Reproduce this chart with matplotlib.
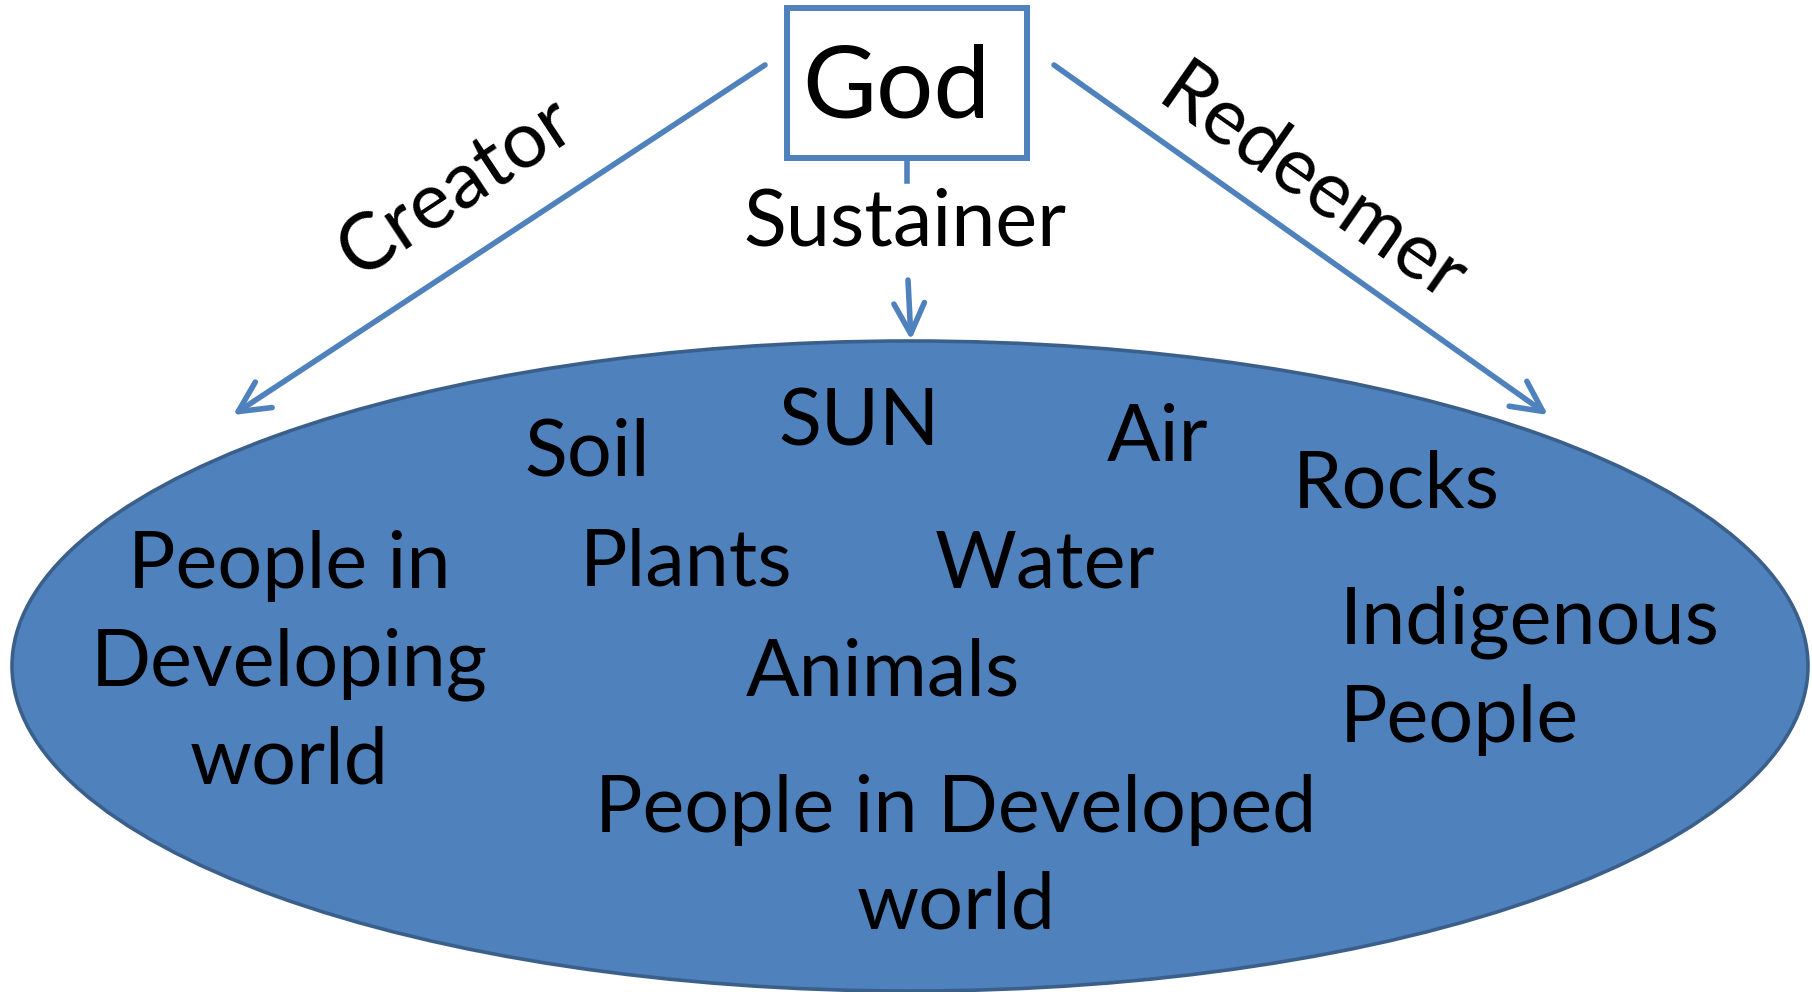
import matplotlib.pyplot as plt
from matplotlib.patches import Ellipse, Rectangle, FancyArrowPatch

plt.rcParams['font.family'] = ['Lato', 'DejaVu Sans']

blue = '#4f81bd'
edge = '#3a5f8b'

# world items inside the ellipse: label, x, y, alignment
world_labels = ['Soil', 'SUN', 'Air', 'Rocks', 'People in\nDeveloping\nworld',
                'Plants', 'Water', 'Animals', 'Indigenous\nPeople',
                'People in Developed\nworld']
world_x = [587, 859, 1158, 1396, 289, 686, 1045, 883, 1340, 956]
world_y = [453, 424, 439, 486, 664, 563, 565, 674, 671, 858]
world_ha = ['center'] * 8 + ['left', 'center']

# relations: label, arrow start, arrow end, label position, rotation
rel_labels = ['Creator', 'Redeemer']
rel_start = [(765, 65), (1054, 65)]
rel_end = [(233, 415), (1548, 415)]
rel_text_xy = [(456, 188), (1312, 186)]
rel_rot = [33.5, -35]

fig = plt.figure(figsize=(18.12, 9.92), dpi=100)
ax = fig.add_axes([0, 0, 1, 1])
ax.set_xlim(0, 1812)
ax.set_ylim(992, 0)
ax.axis('off')

ax.add_patch(Ellipse((910, 666), 1796, 650, facecolor=blue, edgecolor=edge, lw=2.6))
ax.add_patch(Rectangle((787, 8), 240, 150, facecolor='white', edgecolor=blue, lw=4.3))
ax.text(896, 89, 'God', fontsize=73, ha='center', va='center')

astyle = '->,head_length=1.0,head_width=0.5'
for lab, s, e, t, r in zip(rel_labels, rel_start, rel_end, rel_text_xy, rel_rot):
    ax.add_patch(FancyArrowPatch(s, e, arrowstyle=astyle, mutation_scale=22,
                                 color=blue, lw=4.0, shrinkA=0, shrinkB=0))
    ax.text(t[0], t[1], lab, fontsize=57, rotation=r, rotation_mode='anchor',
            ha='center', va='center')

# Sustainer: short stub under the box, then arrow down to the world
ax.plot([907, 907], [158, 181], color=blue, lw=4.0)
ax.add_patch(FancyArrowPatch((908, 280), (911, 340), arrowstyle=astyle, mutation_scale=22,
                             color=blue, lw=4.0, shrinkA=0, shrinkB=0))
ax.text(905, 224, 'Sustainer', fontsize=57, ha='center', va='center')

for lab, x, y, ha in zip(world_labels, world_x, world_y, world_ha):
    ax.text(x, y, lab, fontsize=57, ha=ha, va='center', multialignment=ha, linespacing=1.43)

fig.savefig('out.png', dpi=100)
